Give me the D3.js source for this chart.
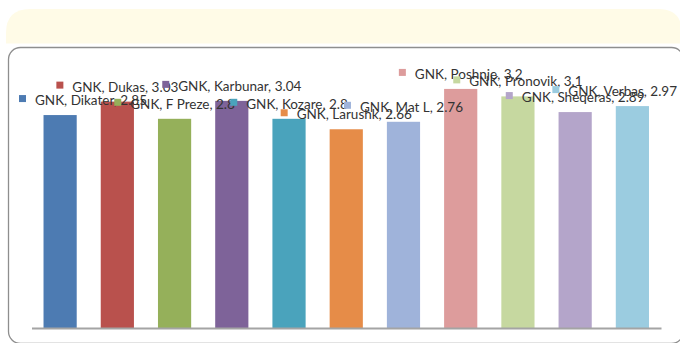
<!DOCTYPE html>
<html>
<head>
<meta charset="utf-8">
<script src="https://cdn.jsdelivr.net/npm/d3@7"></script>
<style>
  html, body { margin: 0; padding: 0; background: #fff; }
  svg { display: block; }
</style>
</head>
<body>
<svg id="chart" width="680" height="343"></svg>
<script>
// GNK scores by site
const seriesName = "GNK";
const categories = ["Dikater", "Dukas", "F Preze", "Karbunar", "Kozare", "Larushk", "Mat L", "Poshnje", "Pronovik", "Sheqeras", "Verbas"];
const values = [2.85, 3.03, 2.8, 3.04, 2.8, 2.66, 2.76, 3.2, 3.1, 2.89, 2.97];
const barColors = ["#4d7bb2", "#b9514d", "#95b05a", "#7e6399", "#4aa3bc", "#e68c48", "#9fb3da", "#dd9c9c", "#c6d8a0", "#b4a5ca", "#9bcce0"];

const W = 680, H = 343;
const svg = d3.select("#chart");

// Title band across the top (rounded top corners)
const bx0 = 6, bx1 = 682, by0 = 9, by1 = 43.5, br = 24;
svg.append("path")
  .attr("d", `M${bx0},${by1} L${bx0},${by0 + br} Q${bx0},${by0} ${bx0 + br},${by0} L${bx1 - br},${by0} Q${bx1},${by0} ${bx1},${by0 + br} L${bx1},${by1} Z`)
  .attr("fill", "#fffbe7");

// Chart frame
svg.append("rect")
  .attr("x", 8.5).attr("y", 47.5)
  .attr("width", 675).attr("height", 296)
  .attr("rx", 12).attr("ry", 12)
  .attr("fill", "none")
  .attr("stroke", "#8e8e8e")
  .attr("stroke-width", 1.3);

// Scales
const x = d3.scaleBand()
  .domain(categories)
  .range([31.5, 661])
  .paddingInner(0.42)
  .paddingOuter(0.21);

const y = d3.scaleLinear()
  .domain([0, 3.5])
  .range([328, 66.5]);

// Bars
svg.append("g")
  .selectAll("rect")
  .data(categories)
  .join("rect")
  .attr("x", d => x(d))
  .attr("y", (d, i) => y(values[i]))
  .attr("width", x.bandwidth())
  .attr("height", (d, i) => y(0) - y(values[i]))
  .attr("fill", (d, i) => barColors[i]);

// Category axis: baseline only
const axis = svg.append("g")
  .attr("transform", `translate(0,${y(0)})`)
  .call(d3.axisBottom(x).tickSize(0).tickSizeOuter(0).tickFormat(""));
axis.select(".domain").attr("stroke", "#a4a4a4").attr("stroke-width", 2);

// Data labels: legend key + "series, category, value", centred over each bar
const markerSize = 7, gap = 9;
const labelMinX = 19, labelMaxX = 677;
const labels = svg.append("g")
  .attr("font-family", "Lato, 'Open Sans', sans-serif")
  .attr("font-size", 13.5)
  .attr("fill", "#333333");

categories.forEach((c, i) => {
  const g = labels.append("g");
  const rect = g.append("rect")
    .attr("width", markerSize).attr("height", markerSize)
    .attr("fill", barColors[i]);
  const txt = g.append("text")
    .text(`${seriesName}, ${c}, ${values[i]}`);
  const tw = txt.node().getComputedTextLength();
  const total = markerSize + gap + tw;
  const cx = x(c) + x.bandwidth() / 2;
  let left = cx - total / 2;
  left = Math.max(labelMinX, Math.min(labelMaxX - total, left));
  const baseline = y(values[i]) - 10;
  rect.attr("x", left).attr("y", baseline - 6.5 - markerSize / 2);
  txt.attr("x", left + markerSize + gap).attr("y", baseline);
});
</script>
</body>
</html>
